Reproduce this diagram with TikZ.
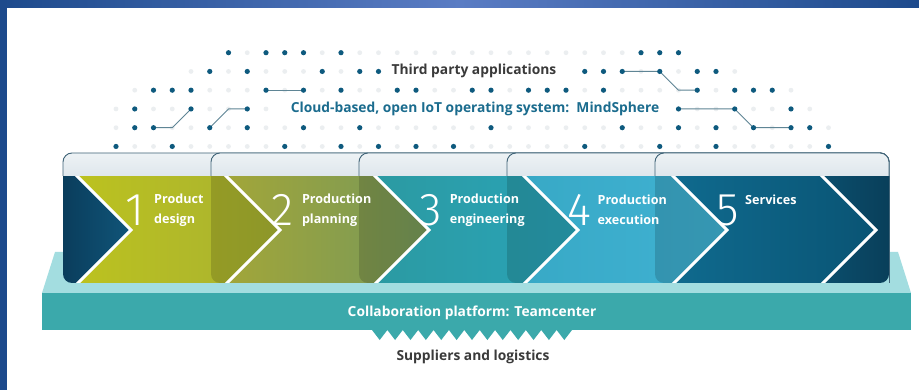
\documentclass[tikz,border=0pt]{standalone}
\usepackage{fontspec}
\setmainfont{Open Sans}
\newfontfamily\digitfont{Fira Sans Light}
\definecolor{frameblue}{HTML}{1D4A8C}
\definecolor{framelight}{HTML}{5A7CC4}
\definecolor{dotdark}{HTML}{0E5A7E}
\definecolor{dotfaint}{HTML}{EBEEF0}
\definecolor{wirecol}{HTML}{5F8595}
\definecolor{textgray}{HTML}{3A3A3A}
\definecolor{cloudblue}{HTML}{1B6C8E}
\definecolor{bandtop}{HTML}{EDF2F5}
\definecolor{bandbot}{HTML}{DFE7EC}
\definecolor{cardedge}{HTML}{3F6377}
\definecolor{navyA}{HTML}{0A3D5C}
\definecolor{navyB}{HTML}{105579}
\definecolor{navyC}{HTML}{0B4E6D}
\definecolor{navyD}{HTML}{093F5A}
\definecolor{segAl}{HTML}{BCC21F}
\definecolor{segAr}{HTML}{A7B132}
\definecolor{segBl}{HTML}{A2A639}
\definecolor{segBr}{HTML}{76985A}
\definecolor{segCl}{HTML}{2B9AA2}
\definecolor{segCr}{HTML}{2AA4B8}
\definecolor{segDl}{HTML}{38A9C6}
\definecolor{segDr}{HTML}{40B2D3}
\definecolor{segEl}{HTML}{0F6A8E}
\definecolor{segEr}{HTML}{0A5474}
\definecolor{overlay}{HTML}{0B4868}
\definecolor{slabtop}{HTML}{A3DDE0}
\definecolor{slabfront}{HTML}{3BA9AB}
\begin{document}
\begin{tikzpicture}[x=1pt,y=-1pt,
  darkdot/.style={fill=dotdark},
  faintdot/.style={fill=dotfaint},
  wire/.style={draw=wirecol,line width=0.9pt},
  chevstroke/.style={draw=white,line width=3pt,line join=miter},
  edgeline/.style={draw=cardedge,line width=0.9pt},
  steplabel/.style={anchor=west,align=left,text=white,inner sep=0pt,
    font=\bfseries\fontsize{12.6}{20}\selectfont},
  stepnum/.style={text=white,inner sep=0pt,font=\digitfont\fontsize{46}{46}\selectfont},
  headline/.style={inner sep=0pt,font=\bfseries\fontsize{13.8}{16}\selectfont}]

\useasboundingbox (0,0) rectangle (919,390);
\fill[white] (0,0) rectangle (919,390);

% frame
\shade[left color=frameblue,right color=frameblue,middle color=framelight] (0,0) rectangle (919,8);
\fill[frameblue] (0,0) rectangle (7,390);

% dot grid
\foreach \k in {0,...,38}{
  \foreach \r in {0,...,5}{
    \coordinate (g-\k-\r) at ({116+18.75*\k},{52.7+18.75*\r});
  }
}
\newcommand{\faintrow}[3]{\foreach \k in {#2,...,#3}{\fill[faintdot] (g-\k-#1) circle (2.4);}}
\newcommand{\darkrow}[2]{\foreach \k in {#2}{\fill[darkdot] (g-\k-#1) circle (2.6);}}
\faintrow{0}{6}{30}
\faintrow{1}{4}{13}\faintrow{1}{25}{33}
\faintrow{2}{1}{36}
\faintrow{3}{0}{8}\faintrow{3}{30}{37}
\faintrow{4}{0}{38}
\faintrow{5}{0}{38}

\draw[wire] (g-2-4) -- (g-3-4) -- (g-4-3);
\draw[wire] (g-5-4) -- (g-6-3) -- (g-7-3);
\draw[wire] (g-8-2) -- (g-10-2);
\draw[wire] (g-27-1) -- (g-29-1) -- (g-30-2) -- (g-31-2);
\draw[wire] (g-30-3) -- (g-33-3) -- (g-34-4) -- (g-36-4);

\darkrow{0}{6,8,9,10,12,28,29,30}
\darkrow{1}{5,7,11,13,14,25,26,27,29,31,32}
\darkrow{2}{2,3,4,8,10,12,15,16,19,20,22,23,24,26,31,33,34,35}
\darkrow{3}{1,4,7,30,33,36}
\darkrow{4}{1,2,5,7,10,13,20,27,30,32,34,36,37}
\darkrow{5}{0,3,9,12,14,16,18,25,29,32,38}

\node[headline,text=textgray] (third) at (474,71) {Third party applications};
\node[headline,text=cloudblue] (cloud) at (475,109) {Cloud-based, open IoT operating system:\ \ MindSphere};

% platform slab
\fill[slabtop] (55,252) -- (898,252) -- (911,293) -- (42,293) -- cycle;
\fill[slabfront] (42,293) rectangle (911,330);
\fill[slabfront] (372,330)
  \foreach \j in {0,...,12}{ -- ({372+15.385*\j+7.69},340) -- ({372+15.385*(\j+1)},330) } -- cycle;
\node[headline,text=white] (collab) at (472,313) {Collaboration platform: Teamcenter};
\node[headline,text=textgray] (suppliers) at (473,357) {Suppliers and logistics};

% chevron band
\begin{scope}
  \clip[rounded corners=9] (63,153) rectangle (889,283);
  \shade[left color=navyA,right color=navyB] (63,176) -- (77,176) -- (131,230) -- (77,283) -- (63,283) -- cycle;
  \shade[left color=navyC,right color=navyD] (822,176) -- (889,176) -- (889,283) -- (822,283) -- (876,230) -- cycle;
  \foreach \i/\cl/\cr in {1/segAl/segAr,2/segBl/segBr,3/segCl/segCr,4/segDl/segDr,5/segEl/segEr}{
    \pgfmathsetmacro\ta{131+149*(\i-1)}
    \pgfmathsetmacro\tb{131+149*\i}
    \shade[left color=\cl,right color=\cr] ({\ta-54},176) -- ({\tb-54},176) -- (\tb,230)
      -- ({\tb-54},283) -- ({\ta-54},283) -- (\ta,230) -- cycle;
  }
  % translucent bodies of cards 2-5 over the previous chevron tip
  \foreach \k in {2,...,5}{
    \pgfmathsetmacro\ta{131+149*(\k-2)}
    \pgfmathsetmacro\tb{131+149*(\k-1)}
    \pgfmathsetmacro\lk{63+148*(\k-1)}
    \begin{scope}
      \clip ({\ta-54},176) -- ({\tb-54},176) -- (\tb,230)
        -- ({\tb-54},283) -- ({\ta-54},283) -- (\ta,230) -- cycle;
      \fill[overlay,opacity=0.15,rounded corners=9] (\lk,150) rectangle (889,283);
    \end{scope}
  }
  \foreach \i in {0,...,5}{
    \pgfmathsetmacro\tb{131+149*\i}
    \draw[chevstroke] ({\tb-56},174) -- (\tb,230) -- ({\tb-56},286);
  }
\end{scope}

% light top bands of the five cards
\foreach \k in {1,...,5}{
  \pgfmathsetmacro\lk{63+148*(\k-1)}
  \begin{scope}
    \clip[rounded corners=9] (\lk,153) rectangle (889,283);
    \shade[top color=bandtop,bottom color=bandbot] (\lk,153) rectangle (889,176);
  \end{scope}
  \draw[edgeline,rounded corners=9] (\lk,176) -- (\lk,153) -- (889,153) -- (889,176);
}
\draw[edgeline] (889,176) -- (889,283);

% step numbers and labels
\foreach \i/\txt in {1/{Product\\design},2/{Production\\planning},3/{Production\\engineering},4/{Production\\execution}}{
  \node[stepnum] (num\i) at ({134.5+148.3*(\i-1)},210) {\i};
  \node[steplabel] (label\i) at ({154+147.8*(\i-1)},210) {\txt};
}
\node[stepnum] (num5) at (727.5,210) {5};
\node[steplabel,anchor=base west] (label5) at (745,205) {Services};

\end{tikzpicture}
\end{document}
